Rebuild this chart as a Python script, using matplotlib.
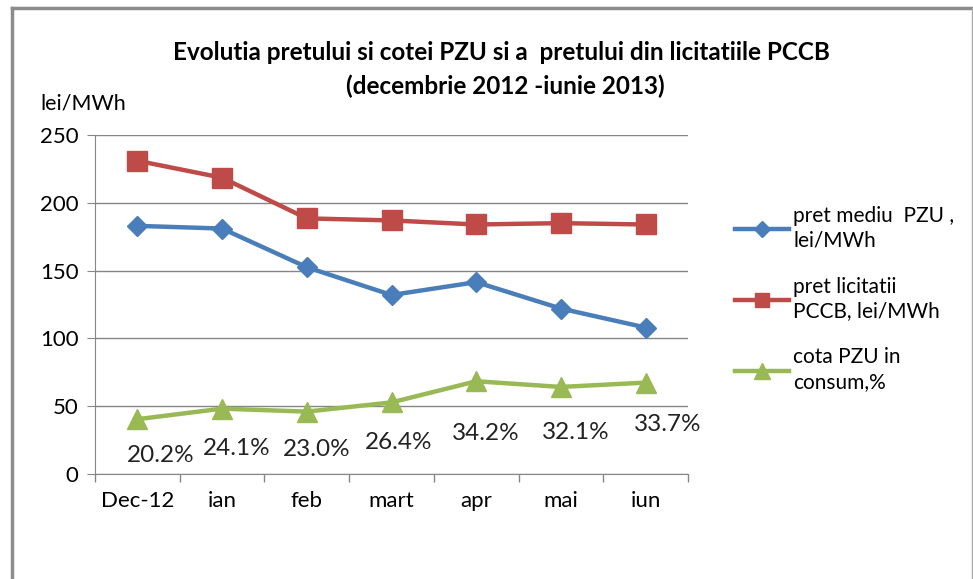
import matplotlib.pyplot as plt
from matplotlib.lines import Line2D

plt.rcParams['font.family'] = ['Lato', 'DejaVu Sans']

luni = ['Dec-12', 'ian', 'feb', 'mart', 'apr', 'mai', 'iun']
pret_pzu = [183, 181, 152.5, 132, 141.5, 122, 108]
pret_pccb = [231, 218.5, 188.5, 187, 184, 185, 184]
cota_plot = [40.4, 48.2, 46.0, 52.8, 68.4, 64.2, 67.4]
cota_label = ['20.2%', '24.1%', '23.0%', '26.4%', '34.2%', '32.1%', '33.7%']

# offsets (px) of the data labels, moved by hand in the original
label_dx = [23, 15, 10, 7, 10, 15, 22]
label_dy = [-36, -40, -38, -40, -52, -46, -42]

W, H = 973, 579
fig = plt.figure(figsize=(W / 100, H / 100), dpi=100)
ax = fig.add_axes([95 / W, 1 - 474 / H, (688 - 95) / W, (474 - 135) / H])

x = list(range(len(luni)))
ax.plot(x, pret_pzu, color='#4a7ebb', lw=3.2, marker='D', ms=10.5, label='pret mediu  PZU ,\nlei/MWh')
ax.plot(x, pret_pccb, color='#be4b48', lw=3.2, marker='s', ms=14, label='pret licitatii\nPCCB, lei/MWh')
ax.plot(x, cota_plot, color='#98b954', lw=3.2, marker='^', ms=15, label='cota PZU in\nconsum,%')

for i in x:
    ax.annotate(cota_label[i], (i, cota_plot[i]), xytext=(label_dx[i] * 0.72, label_dy[i] * 0.72),
                textcoords='offset points', ha='center', va='center', fontsize=17.5, color='#222222')

ax.set_xlim(-0.5, len(luni) - 0.5)
ax.set_ylim(0, 250)
ax.set_yticks(range(0, 251, 50))
ax.set_xticks(x)
ax.set_xticklabels(luni)
ax.set_xticks([i - 0.5 for i in range(len(luni) + 1)], minor=True)
ax.tick_params(axis='x', which='major', length=0, pad=12, labelsize=16)
ax.tick_params(axis='x', which='minor', length=6, color='#868686', width=1)
ax.tick_params(axis='y', length=6, color='#868686', labelsize=16, pad=6)
ax.grid(axis='y', color='#868686', lw=1)
ax.set_axisbelow(True)
for s in ['top', 'right']:
    ax.spines[s].set_visible(False)
for s in ['left', 'bottom']:
    ax.spines[s].set_color('#868686')

fig.text(40 / W, 1 - 103 / H, 'lei/MWh', fontsize=15.5, va='center', ha='left')
fig.text(501 / W, 1 - 52 / H, 'Evolutia pretului si cotei PZU si a  pretului din licitatiile PCCB',
         fontsize=17.5, fontweight='bold', ha='center', va='center')
fig.text(505 / W, 1 - 86 / H, '(decembrie 2012 -iunie 2013)',
         fontsize=17.5, fontweight='bold', ha='center', va='center')

leg = fig.legend(loc='upper left', bbox_to_anchor=(716 / W, 1 - 187 / H), frameon=False,
                 fontsize=15, handlelength=2.6, handletextpad=0.2, labelspacing=1.25,
                 markerscale=0.75)
for t in leg.get_texts():
    t.set_linespacing(1.3)

# outer frame of the chart
fig.add_artist(Line2D([12 / W, 12 / W], [0, 1 - 8 / H], color='#8c8c8c', lw=2.5))
fig.add_artist(Line2D([12 / W, 972 / W], [1 - 8 / H, 1 - 8 / H], color='#8c8c8c', lw=2.5))
fig.add_artist(Line2D([971.5 / W, 971.5 / W], [0, 1 - 8 / H], color='#aaaaaa', lw=1))

fig.savefig('out.png', dpi=100)
